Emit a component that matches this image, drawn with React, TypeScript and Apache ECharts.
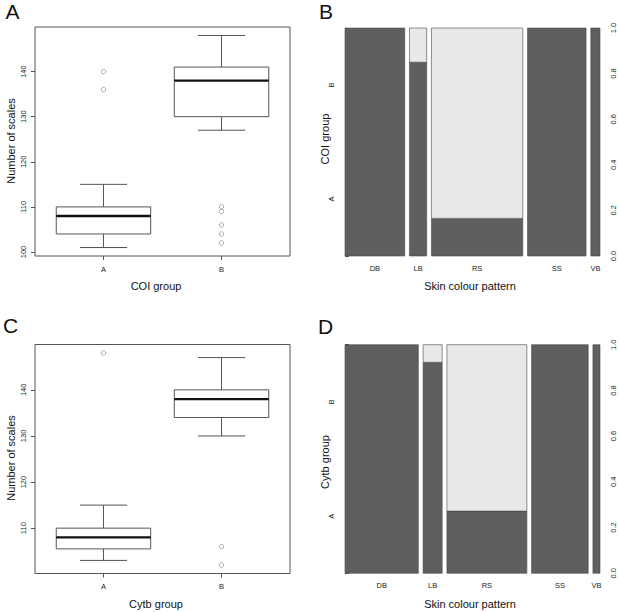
import React, { useEffect, useRef } from "react";
import * as echarts from "echarts";

// ---------- data ----------
const boxGroups = ["A", "B"];
// [lower whisker, Q1, median, Q3, upper whisker]
const coiStats = [
  [101, 104, 108, 110, 115],
  [127, 130, 138, 141, 148],
];
const coiOutliersA = [140, 136];
const coiOutliersB = [110, 109, 106, 104, 102];
const cytbStats = [
  [103, 105.5, 108, 110, 115],
  [130, 134, 138, 140, 147],
];
const cytbOutliersA = [148];
const cytbOutliersB = [106, 102];
const scaleTicks = [100, 110, 120, 130, 140];

const patterns = ["DB", "LB", "RS", "SS", "VB"];
const coiShare = [0.253, 0.073, 0.387, 0.248, 0.039];
const coiPropA = [1, 0.85, 0.165, 1, 1];
const cytbShare = [0.311, 0.081, 0.339, 0.24, 0.03];
const cytbPropA = [1, 0.923, 0.272, 1, 1];
const propTicks = [0, 0.2, 0.4, 0.6, 0.8, 1];
const groupLabelPos = [0.25, 0.75];

// ---------- styling ----------
const FONT = "'Liberation Sans', Arial, Helvetica, sans-serif";
const AXIS = "#555555";
const DARK = "#5f5f5f";
const LIGHT = "#e8e8e8";
const GAP = 0.02;

function rangeOf(stats: number[][], outs: number[][]) {
  const all = stats.flat().concat(outs.flat());
  const lo = Math.min(...all);
  const hi = Math.max(...all);
  const d = (hi - lo) * 0.04;
  return [lo - d, hi + d];
}

function spineData(share: number[], propA: number[]) {
  const total = share.reduce((a, b) => a + b, 0);
  const rects: any[] = [];
  const centers: number[] = [];
  let x = 0;
  share.forEach((s, i) => {
    const w = s / total;
    rects.push([x, x + w, 0, propA[i], 0]);
    if (propA[i] < 1) rects.push([x, x + w, propA[i], 1, 1]);
    centers.push(x + w / 2);
    x += w + GAP;
  });
  return { rects, centers, max: x - GAP };
}

const boxRender = (params: any, api: any) => {
  const x = api.value(0);
  const lw = api.value(1), q1 = api.value(2), med = api.value(3), q3 = api.value(4), uw = api.value(5);
  const half = 0.4;
  const [xl] = api.coord([x - half, q1]);
  const [xr] = api.coord([x + half, q1]);
  const [xc, yq1] = api.coord([x, q1]);
  const yq3 = api.coord([x, q3])[1];
  const ymed = api.coord([x, med])[1];
  const ylw = api.coord([x, lw])[1];
  const yuw = api.coord([x, uw])[1];
  const sw = (xr - xl) / 4;
  const ls = { stroke: AXIS, lineWidth: 1 };
  return {
    type: "group",
    children: [
      { type: "line", shape: { x1: xc, y1: yq3, x2: xc, y2: yuw }, style: ls },
      { type: "line", shape: { x1: xc, y1: yq1, x2: xc, y2: ylw }, style: ls },
      { type: "line", shape: { x1: xc - sw, y1: yuw, x2: xc + sw, y2: yuw }, style: ls },
      { type: "line", shape: { x1: xc - sw, y1: ylw, x2: xc + sw, y2: ylw }, style: ls },
      { type: "rect", shape: { x: xl, y: yq3, width: xr - xl, height: yq1 - yq3 }, style: { fill: "#ffffff", stroke: AXIS, lineWidth: 1 } },
      { type: "line", shape: { x1: xl, y1: ymed, x2: xr, y2: ymed }, style: { stroke: "#111111", lineWidth: 2.4 } },
    ],
  };
};

const spineRender = (params: any, api: any) => {
  const p0 = api.coord([api.value(0), api.value(3)]);
  const p1 = api.coord([api.value(1), api.value(2)]);
  const c = api.value(4);
  return {
    type: "rect",
    shape: { x: p0[0], y: p0[1], width: p1[0] - p0[0], height: p1[1] - p0[1] },
    style: { fill: c === 0 ? DARK : LIGHT, stroke: "#4a4a4a", lineWidth: 0.6 },
  };
};

export default function App() {
  const ref = useRef<HTMLDivElement>(null);
  useEffect(() => {
    document.body.style.margin = "0";
    if (!ref.current) return;
    const chart = echarts.init(ref.current, undefined, { renderer: "svg" });

    const coiRange = rangeOf(coiStats, [coiOutliersA, coiOutliersB]);
    const cytbRange = rangeOf(cytbStats, [cytbOutliersA, cytbOutliersB]);
    const coiSpine = spineData(coiShare, coiPropA);
    const cytbSpine = spineData(cytbShare, cytbPropA);

    const tickLabel = { fontSize: 7.5, color: "#222", fontFamily: FONT };

    const boxX = (gi: number) => ({
      gridIndex: gi,
      type: "value",
      min: 0.42,
      max: 2.58,
      axisLine: { show: false },
      splitLine: { show: false },
      axisTick: { show: true, inside: false, length: 4, lineStyle: { color: AXIS }, customValues: [1, 2] },
      axisLabel: { ...tickLabel, margin: 9, customValues: [1, 2], formatter: (v: number) => boxGroups[Math.round(v) - 1] },
    });
    const boxY = (gi: number, r: number[]) => ({
      gridIndex: gi,
      type: "value",
      min: r[0],
      max: r[1],
      axisLine: { show: false },
      splitLine: { show: false },
      axisTick: { show: true, inside: false, length: 4, lineStyle: { color: AXIS }, customValues: scaleTicks.filter((t) => t >= r[0]) },
      axisLabel: { ...tickLabel, rotate: 90, margin: 8, customValues: scaleTicks.filter((t) => t >= r[0]), formatter: (v: number) => String(Math.round(v)) },
    });
    const spineX = (gi: number, s: any) => ({
      gridIndex: gi,
      type: "value",
      min: 0,
      max: s.max,
      axisLine: { show: false },
      splitLine: { show: false },
      axisTick: { show: false },
      axisLabel: {
        ...tickLabel,
        margin: 8,
        customValues: s.centers,
        formatter: (v: number) => {
          let best = 0;
          s.centers.forEach((c: number, i: number) => {
            if (Math.abs(c - v) < Math.abs(s.centers[best] - v)) best = i;
          });
          return patterns[best];
        },
      },
    });
    const spineYRight = (gi: number) => ({
      gridIndex: gi,
      type: "value",
      position: "right",
      offset: 1,
      min: 0,
      max: 1,
      axisLine: { show: true, lineStyle: { color: AXIS } },
      splitLine: { show: false },
      axisTick: { show: true, inside: false, length: 4, lineStyle: { color: AXIS }, customValues: propTicks },
      axisLabel: { ...tickLabel, rotate: 90, margin: 8, customValues: propTicks, formatter: (v: number) => v.toFixed(1) },
    });
    const spineYLeft = (gi: number) => ({
      gridIndex: gi,
      type: "value",
      position: "left",
      min: 0,
      max: 1,
      axisLine: { show: false },
      splitLine: { show: false },
      axisTick: { show: false },
      axisLabel: { ...tickLabel, rotate: 90, margin: 10, customValues: groupLabelPos, formatter: (v: number) => (v < 0.5 ? boxGroups[0] : boxGroups[1]) },
    });

    const outliers = (a: number[], b: number[]) =>
      a.map((v) => [1, v]).concat(b.map((v) => [2, v]));

    const gridBorder = { show: true, borderColor: AXIS, borderWidth: 1, backgroundColor: "transparent" };

    const text = (t: string, x: number, y: number, size: number, rot = 0) => ({
      type: "text",
      x,
      y,
      rotation: rot,
      style: { text: t, fontSize: size, fontFamily: FONT, fill: "#111", textAlign: "center", textVerticalAlign: "middle" },
    });

    const outlierStyle = {
      symbol: "circle",
      symbolSize: 4.5,
      itemStyle: { color: "rgba(0,0,0,0)", borderColor: "#666666", borderWidth: 0.7 },
    };

    chart.setOption({
      animation: false,
      textStyle: { fontFamily: FONT },
      grid: [
        { left: 35, top: 27, width: 255, height: 229, ...gridBorder },
        { left: 345, top: 28, width: 255, height: 228, show: false },
        { left: 35, top: 344.5, width: 255, height: 229, ...gridBorder },
        { left: 345, top: 344.7, width: 255, height: 228.6, show: false },
      ],
      xAxis: [boxX(0), spineX(1, coiSpine), boxX(2), spineX(3, cytbSpine)],
      yAxis: [
        boxY(0, coiRange),
        spineYRight(1),
        spineYLeft(1),
        boxY(2, cytbRange),
        spineYRight(3),
        spineYLeft(3),
      ],
      series: [
        {
          type: "custom",
          xAxisIndex: 0,
          yAxisIndex: 0,
          renderItem: boxRender,
          data: coiStats.map((s, i) => [i + 1, ...s]),
        },
        {
          type: "scatter",
          xAxisIndex: 0,
          yAxisIndex: 0,
          ...outlierStyle,
          data: outliers(coiOutliersA, coiOutliersB),
        },
        {
          type: "custom",
          xAxisIndex: 1,
          yAxisIndex: 1,
          renderItem: spineRender,
          encode: { x: [0, 1], y: [2, 3] },
          data: coiSpine.rects,
        },
        {
          type: "custom",
          xAxisIndex: 2,
          yAxisIndex: 3,
          renderItem: boxRender,
          data: cytbStats.map((s, i) => [i + 1, ...s]),
        },
        {
          type: "scatter",
          xAxisIndex: 2,
          yAxisIndex: 3,
          ...outlierStyle,
          data: outliers(cytbOutliersA, cytbOutliersB),
        },
        {
          type: "custom",
          xAxisIndex: 3,
          yAxisIndex: 4,
          renderItem: spineRender,
          encode: { x: [0, 1], y: [2, 3] },
          data: cytbSpine.rects,
        },
      ],
      graphic: [
        text("A", 12.5, 11, 21),
        text("B", 326, 11, 21),
        text("C", 10.5, 325, 21),
        text("D", 325.5, 326, 21),
        text("Number of scales", 11, 141, 11, Math.PI / 2),
        text("COI group", 156, 286, 11),
        text("COI group", 324.5, 139, 11, Math.PI / 2),
        text("Skin colour pattern", 470, 286, 11),
        text("Number of scales", 11, 458, 11, Math.PI / 2),
        text("Cytb group", 156, 603.5, 11),
        text("Cytb group", 324.5, 462, 11, Math.PI / 2),
        text("Skin colour pattern", 470, 603.5, 11),
      ],
    });
    return () => chart.dispose();
  }, []);
  return <div ref={ref} style={{ width: 619, height: 612 }} />;
}
